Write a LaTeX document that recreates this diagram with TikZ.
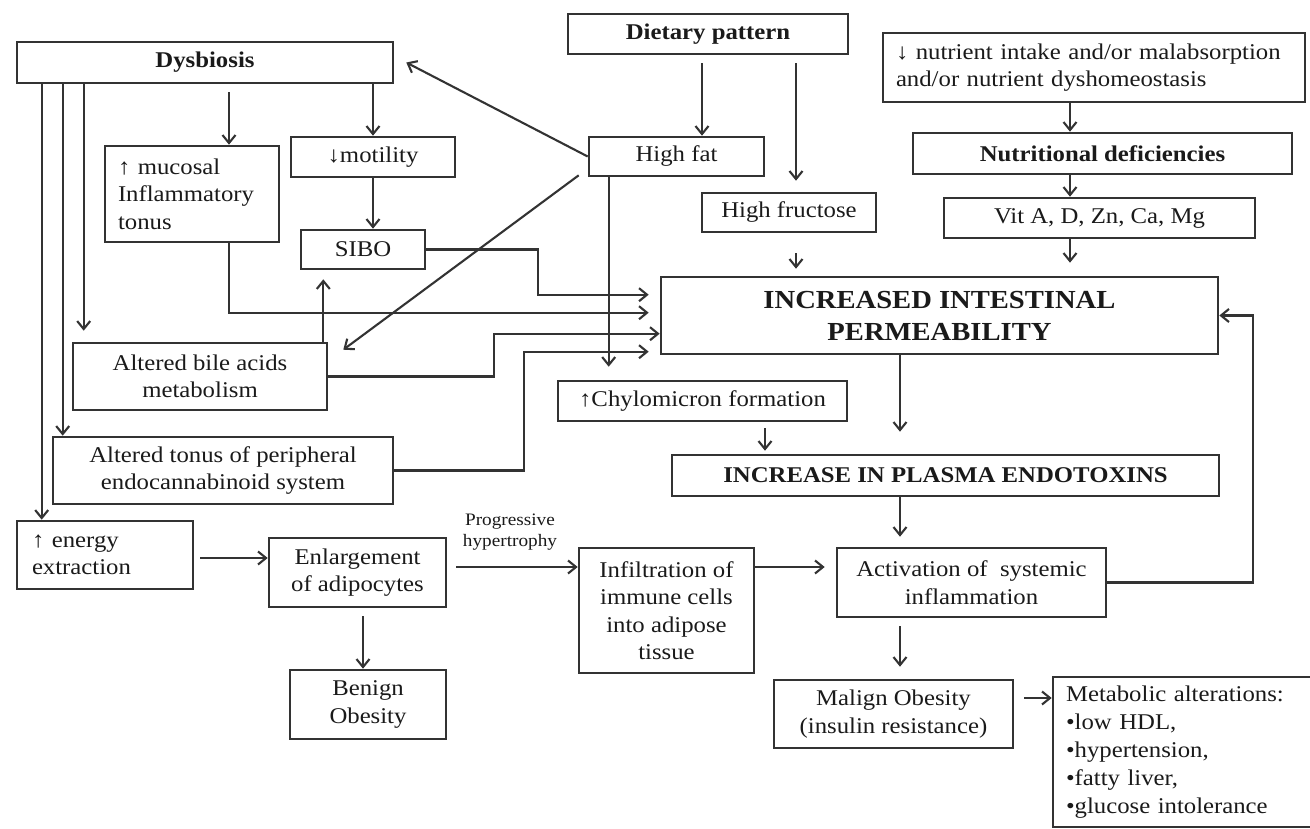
\documentclass[tikz,border=0pt]{standalone}
\usepackage{fontspec}
\setmainfont[FakeStretch=1.1]{Liberation Serif}
\usetikzlibrary{arrows.meta}
\definecolor{linec}{HTML}{333333}
\definecolor{txtc}{HTML}{1A1A1A}
\newcommand\normtxt{\fontsize{22.5}{27.5}\selectfont}
\newcommand\bigtxt{\fontsize{26}{32}\selectfont}
\newcommand\smalltxt{\fontsize{17.5}{21}\selectfont}
\begin{document}
\begin{tikzpicture}[x=1pt,y=-1pt,
  box/.style={draw=linec, line width=2.6pt, inner sep=0pt, text=txtc,
              align=center, font=\normtxt},
  arr/.style={draw=linec, line width=2.1pt,
              -{Straight Barb[length=8pt,width=13pt]}}]
\useasboundingbox[fill=white] (0,0) rectangle (1310,828);

% boxes
\node[box, minimum width=376pt, minimum height=41pt] (dys) at (205,62.5) {\textbf{Dysbiosis}};
\node[box, minimum width=280pt, minimum height=40pt] (diet) at (708,34) {\textbf{Dietary pattern}};
\node[box, minimum width=422pt, minimum height=69pt, text width=396pt, align=left] (nutr) at (1094,67.5)
  {↓ nutrient intake and/or malabsorption\\and/or nutrient dyshomeostasis};
\node[box, minimum width=379pt, minimum height=41pt] (ndef) at (1102.5,153.5) {\textbf{Nutritional deficiencies}};
\node[box, minimum width=311pt, minimum height=40pt] (vit) at (1099.5,218) {Vit A, D, Zn, Ca, Mg};
\node[box, minimum width=174pt, minimum height=96pt, text width=148pt, align=left] (muc) at (192,194)
  {↑ mucosal\\Inflammatory\\tonus};
\node[box, minimum width=164pt, minimum height=40pt] (mot) at (373,157) {↓motility};
\node[box, minimum width=124pt, minimum height=39pt] (sibo) at (363,249.5) {SIBO};
\node[box, minimum width=175pt, minimum height=39pt] (fat) at (676.5,156.5) {High fat};
\node[box, minimum width=174pt, minimum height=39pt] (fru) at (789,212.5) {High fructose};
\node[box, minimum width=557pt, minimum height=77pt, font=\bigtxt] (perm) at (939.5,315.5)
  {\textbf{INCREASED INTESTINAL}\\\textbf{PERMEABILITY}};
\node[box, minimum width=289pt, minimum height=40pt] (chy) at (702.5,401) {↑Chylomicron formation};
\node[box, minimum width=547pt, minimum height=41pt] (endo) at (945.5,475.5) {\textbf{INCREASE IN PLASMA ENDOTOXINS}};
\node[box, minimum width=254pt, minimum height=67pt] (bile) at (200,376.5) {Altered bile acids\\metabolism};
\node[box, minimum width=340pt, minimum height=67pt] (endc) at (223,470.5)
  {Altered tonus of peripheral\\endocannabinoid system};
\node[box, minimum width=176pt, minimum height=68pt, text width=146pt, align=left] (ener) at (105,555)
  {↑ energy\\extraction};
\node[box, minimum width=177pt, minimum height=69pt] (enl) at (357.5,572.5) {Enlargement\\of adipocytes};
\node[box, minimum width=156pt, minimum height=69pt] (ben) at (368,704.5) {Benign\\Obesity};
\node[box, minimum width=175pt, minimum height=125pt] (inf) at (666.5,610.5)
  {Infiltration of\\immune cells\\into adipose\\tissue};
\node[box, minimum width=269pt, minimum height=69pt] (act) at (971.5,582.5)
  {Activation of\ \ systemic\\inflammation};
\node[box, minimum width=239pt, minimum height=68pt] (mal) at (893.5,714)
  {Malign Obesity\\(insulin resistance)};
% this box runs on past the right edge of the page
\node[box, minimum width=275pt, minimum height=150pt, text width=249pt, align=left,
      font=\fontsize{22.5}{28}\selectfont] (met) at (1190.5,752)
  {Metabolic alterations:\\•low HDL,\\•hypertension,\\•fatty liver,\\•glucose intolerance};
\node[font=\smalltxt, align=center, text=txtc] (lbl) at (510,532) {Progressive\\hypertrophy};

% Dysbiosis fan-out
\draw[arr, shorten <=8pt] ([xshift=37pt]muc.north |- dys.south) -- ([xshift=37pt]muc.north);
\draw[arr] (mot.north |- dys.south) -- (mot.north);
\draw[arr, shorten >=11pt] ([xshift=12pt]bile.north west |- dys.south) -- ([xshift=12pt]bile.north west);
\draw[arr] ([xshift=11pt]endc.north west |- dys.south) -- ([xshift=11pt]endc.north west);
\draw[arr] ([xshift=26pt]ener.north west |- dys.south) -- ([xshift=26pt]ener.north west);
\draw[arr] (mot.south) -- (mot.south |- sibo.north);

% dietary pattern
\draw[arr, shorten <=8pt] ([xshift=-6pt]diet.south) -- ([xshift=-6pt]diet.south |- fat.north);
\draw[arr, shorten <=8pt, shorten >=11pt] ([xshift=88pt]diet.south) -- ([xshift=88pt]diet.south |- fru.north);
\draw[arr, shorten <=20pt, shorten >=7pt] ([xshift=7pt]fru.south) -- ([xshift=7pt]fru.south |- perm.north);
\draw[arr] (fat.west) -- ([xshift=12pt]dys.east);
\draw[arr] ([xshift=-9pt,yshift=2pt]fat.south west) -- ([xshift=15pt,yshift=-8pt]bile.north east);
\draw[arr, shorten >=13pt] ([xshift=21pt]fat.south west) -- ([xshift=21pt]fat.south west |- chy.north);

% nutritional chain
\draw[arr] ([xshift=-24pt]nutr.south) -- ([xshift=-24pt]nutr.south |- ndef.north);
\draw[arr] ([xshift=-24pt]nutr.south |- ndef.south) -- ([xshift=-24pt]nutr.south |- vit.north);
\draw[arr, shorten >=13pt] ([xshift=-24pt]nutr.south |- vit.south) -- ([xshift=-24pt]nutr.south |- perm.north);

% inputs to intestinal permeability
\draw[arr] (sibo.east) -- ++(112pt,0) |- ([xshift=-11pt,yshift=-19pt]perm.north west);
\draw[arr] ([xshift=37pt]muc.south) |- ([xshift=-11pt,yshift=-37pt]perm.north west);
\draw[arr, shorten >=9pt] ([xshift=-5pt]bile.north east) -- ([xshift=-5pt]bile.north east |- sibo.south);
\draw[arr] (bile.east) -- ++(166pt,0) |- ([yshift=-58pt]perm.north west);
\draw[arr] (endc.east) -- ++(130pt,0) |- ([xshift=-11pt,yshift=-76pt]perm.north west);

% central column
\draw[arr, shorten <=6pt, shorten >=3pt] ([xshift=62.5pt]chy.south) -- ([xshift=62.5pt]chy.south |- endo.north);
\draw[arr, shorten >=22pt] ([xshift=-39.5pt]perm.south) -- ([xshift=-39.5pt]perm.south |- endo.north);
\draw[arr, shorten >=10pt] ([xshift=-45.5pt]endo.south) -- ([xshift=-45.5pt]endo.south |- act.north);
\draw[arr, shorten <=8pt, shorten >=12pt] ([xshift=-71.5pt]act.south) -- ([xshift=-71.5pt]act.south |- mal.north);
\draw[arr] (act.east) -- ++(146pt,0) |- (perm.east);
\draw[arr, shorten <=10pt] ([yshift=16pt]mal.east) -- ([yshift=16pt]mal.east -| met.west);

% adipose tissue row
\draw[arr, shorten <=6pt] ([yshift=-3pt]ener.east) -- ([yshift=-3pt]ener.east -| enl.west);
\draw[arr, shorten <=8pt] ([xshift=5.5pt]enl.south) -- ([xshift=5.5pt]enl.south |- ben.north);
\draw[arr, shorten <=9pt] ([yshift=5.5pt]enl.east) -- ([yshift=5.5pt]enl.east -| inf.west);
\draw[arr, shorten >=11pt] ([yshift=5.5pt]enl.east -| inf.east) -- ([yshift=5.5pt]enl.east -| act.west);
\end{tikzpicture}
\end{document}
